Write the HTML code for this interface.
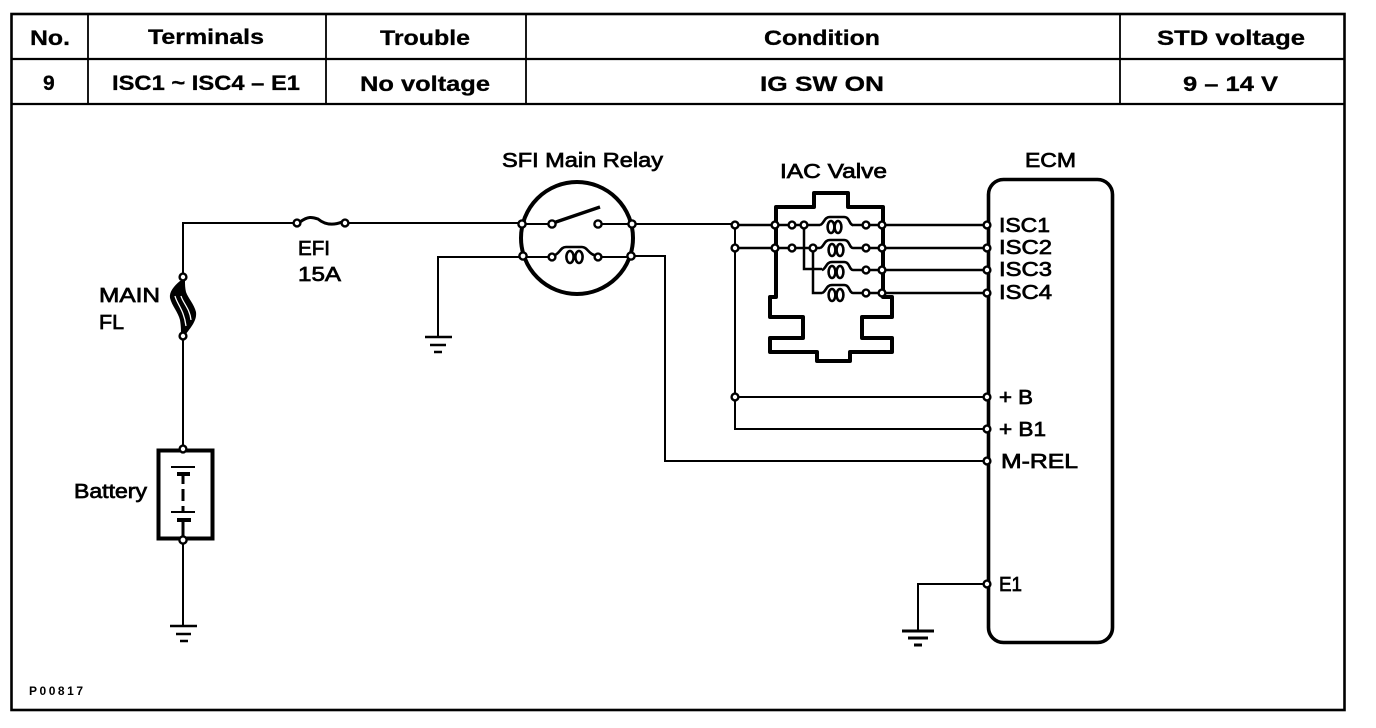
<!DOCTYPE html>
<html><head><meta charset="utf-8"><style>
html,body{margin:0;padding:0;background:#fff;width:1376px;height:728px;overflow:hidden}
svg{display:block}
text{font-family:"Liberation Sans",sans-serif;fill:#000}
.h{font-weight:bold;font-size:21px;stroke:#000;stroke-width:.3}
.l{font-size:20px;font-weight:normal;stroke:#000;stroke-width:.7}
.w{fill:none;stroke:#000;stroke-width:2}
.v{fill:none;stroke:#000;stroke-width:2.5}
.t{fill:none;stroke:#000;stroke-width:4;stroke-linejoin:round}
.n{fill:#fff;stroke:#000;stroke-width:2.4}
.c{fill:none;stroke:#000;stroke-width:2.6}
</style></head><body>
<svg width="1376" height="728" viewBox="0 0 1376 728" xmlns="http://www.w3.org/2000/svg">
<rect width="1376" height="728" fill="#fff"/>
<!-- table frame -->
<g fill="none" stroke="#000">
<rect x="11.5" y="14" width="1333" height="696" stroke-width="2.6"/>
<path d="M11 59H1345M11 104H1345" stroke-width="2.2"/>
<path d="M88 14V104M326 14V104M526 14V104M1120 14V104" stroke-width="1.8"/>
</g>
<text class="h" x="30" y="45" textLength="40" lengthAdjust="spacingAndGlyphs">No.</text>
<text class="h" x="148" y="44" textLength="116" lengthAdjust="spacingAndGlyphs">Terminals</text>
<text class="h" x="380" y="45" textLength="90" lengthAdjust="spacingAndGlyphs">Trouble</text>
<text class="h" x="764" y="45" textLength="116" lengthAdjust="spacingAndGlyphs">Condition</text>
<text class="h" x="1157" y="45" textLength="148" lengthAdjust="spacingAndGlyphs">STD voltage</text>
<text class="h" x="43" y="90">9</text>
<text class="h" x="112" y="90" textLength="188" lengthAdjust="spacingAndGlyphs">ISC1 ~ ISC4 – E1</text>
<text class="h" x="360" y="91" textLength="130" lengthAdjust="spacingAndGlyphs">No voltage</text>
<text class="h" x="760" y="91" textLength="124" lengthAdjust="spacingAndGlyphs">IG SW ON</text>
<text class="h" x="1183" y="91" textLength="95" lengthAdjust="spacingAndGlyphs">9 – 14 V</text>

<!-- labels -->
<text class="l" x="502" y="167" textLength="161" lengthAdjust="spacingAndGlyphs">SFI Main Relay</text>
<text class="l" x="780" y="178" textLength="107" lengthAdjust="spacingAndGlyphs">IAC Valve</text>
<text class="l" x="1025" y="167" textLength="51" lengthAdjust="spacingAndGlyphs">ECM</text>
<text class="l" x="999" y="232" textLength="51" lengthAdjust="spacingAndGlyphs">ISC1</text>
<text class="l" x="999" y="254" textLength="53" lengthAdjust="spacingAndGlyphs">ISC2</text>
<text class="l" x="999" y="276" textLength="53" lengthAdjust="spacingAndGlyphs">ISC3</text>
<text class="l" x="999" y="299" textLength="53" lengthAdjust="spacingAndGlyphs">ISC4</text>
<text class="l" x="999" y="404" textLength="34" lengthAdjust="spacingAndGlyphs">+ B</text>
<text class="l" x="999" y="436" textLength="47" lengthAdjust="spacingAndGlyphs">+ B1</text>
<text class="l" x="1001" y="468" textLength="77" lengthAdjust="spacingAndGlyphs">M-REL</text>
<text class="l" x="999" y="591" textLength="23" lengthAdjust="spacingAndGlyphs">E1</text>
<text class="l" x="99" y="302" textLength="61" lengthAdjust="spacingAndGlyphs">MAIN</text>
<text class="l" x="99" y="329" textLength="25" lengthAdjust="spacingAndGlyphs">FL</text>
<text class="l" x="298" y="255" textLength="32" lengthAdjust="spacingAndGlyphs">EFI</text>
<text class="l" x="298" y="281" textLength="43" lengthAdjust="spacingAndGlyphs">15A</text>
<text class="l" x="74" y="498" textLength="73" lengthAdjust="spacingAndGlyphs">Battery</text>
<text x="29" y="695" font-size="12" font-weight="bold" textLength="54" lengthAdjust="spacing">P00817</text>

<!-- wires -->
<path class="w" d="M183 277V223H297M345 223H522M183 336V450M183 540V626"/>
<path class="w" d="M438 336V257H523M632 224H735M632 256H665V461H987"/>
<path class="w" d="M735 225V429H987M735 397H987"/>
<path class="v" d="M735 225H776M735 248H776"/>
<path class="v" d="M883 225H987M883 248H987M883 270H987M883 293H987"/>
<path class="w" d="M987 584H918V631"/>

<!-- EFI fuse -->
<path fill="none" stroke="#000" stroke-width="3" d="M300 222C308 216 312 217 318 219C324 224 332 226 342 222"/>
<!-- Main FL -->
<path fill="#000" d="M180 281C174 286 169 292 170 298C172 306 178 312 180 320C181 326 181 330 181 334H186C192 326 197 320 196 312C194 304 188 298 186 292C185 288 185 284 185 281Z"/>
<path fill="none" stroke="#fff" stroke-width="1.3" d="M175 296C177 304 184 310 186 326M181 296C183 303 190 309 191 320"/>

<!-- Battery -->
<rect x="158.5" y="450.5" width="54" height="88" fill="none" stroke="#000" stroke-width="4"/>
<g fill="none" stroke="#000">
<path stroke-width="2" d="M171 467H195M171 512H195"/>
<path stroke-width="4" d="M177 474H190M177 520H191"/>
<path stroke-width="3" d="M183 474V484M183 489V501M183 506V512M183 520V538"/>
</g>
<!-- grounds -->
<g fill="none" stroke="#000">
<path stroke-width="2.6" d="M170 626H197M176 634H191M180 641H188"/>
<path stroke-width="2.6" d="M425 337H452M430 345H446M434 352H442"/>
<path stroke-width="3" d="M902 631H934M908 638H928M914 645H922"/>
</g>

<!-- Relay -->
<circle cx="577" cy="238" r="56" fill="none" stroke="#000" stroke-width="4"/>
<path class="w" d="M522 224H552M598 224H632M522 257H552M598 257H632"/>
<path fill="none" stroke="#000" stroke-width="3.4" d="M553 223L600 207"/>
<path class="c" d="M553 256C560 254 560 247 566 247H582C588 247 588 255 598 256"/>
<ellipse class="c" cx="570" cy="257" rx="3.6" ry="6"/>
<ellipse class="c" cx="579" cy="257" rx="3.6" ry="6"/>

<!-- IAC valve body -->
<path class="t" d="M776 297V207H814V193H848V207H883V297H892V317H862V338H892V352H850V361H817V352H770V338H803V317H770V297Z"/>
<path class="v" d="M776 225H820M852 225H883M776 248H820M853 248H883M804 225V269H822M813 248V293H822M853 270H883M853 293H883"/>
<path class="c" d="M820 225C824 224 824 217 830 217H844C850 217 849 225 853 225"/>
<ellipse class="c" cx="831" cy="227" rx="3.4" ry="6"/><ellipse class="c" cx="838" cy="227" rx="3.4" ry="6"/>
<path class="c" d="M820 248C824 247 824 240 830 240H844C850 240 849 248 853 248"/>
<ellipse class="c" cx="832" cy="250" rx="3.4" ry="6"/><ellipse class="c" cx="840" cy="250" rx="3.4" ry="6"/>
<path class="c" d="M822 270C826 269 826 262 832 262H844C850 262 849 270 853 270"/>
<ellipse class="c" cx="832" cy="272" rx="3.4" ry="6"/><ellipse class="c" cx="840" cy="272" rx="3.4" ry="6"/>
<path class="c" d="M822 293C826 292 826 285 832 285H844C850 285 849 293 853 293"/>
<ellipse class="c" cx="832" cy="295" rx="3.4" ry="6"/><ellipse class="c" cx="840" cy="295" rx="3.4" ry="6"/>

<!-- ECM -->
<rect x="988.5" y="179.5" width="124" height="463" rx="15" ry="15" fill="none" stroke="#000" stroke-width="3.6"/>

<!-- nodes -->
<g class="n">
<circle cx="183" cy="277" r="3.4"/><circle cx="183" cy="336" r="3.4"/>
<circle cx="183" cy="449" r="3.4"/><circle cx="183" cy="540" r="3.6"/>
<circle cx="297" cy="223" r="3.4"/><circle cx="345" cy="223" r="3.4"/>
<circle cx="522" cy="224" r="3.6"/><circle cx="632" cy="224" r="3.6"/>
<circle cx="523" cy="256" r="3.6"/><circle cx="631" cy="256" r="3.6"/>
<circle cx="552" cy="224" r="3.6"/><circle cx="598" cy="224" r="3.6"/>
<circle cx="552" cy="257" r="3.4"/><circle cx="598" cy="257" r="3.4"/>
<circle cx="735" cy="225" r="3.4"/><circle cx="735" cy="248" r="3.4"/><circle cx="735" cy="397" r="3.4"/>
<circle cx="775" cy="225" r="3.4"/><circle cx="792" cy="225" r="3.4"/><circle cx="804" cy="225" r="3.4"/><circle cx="866" cy="225" r="3.4"/><circle cx="882" cy="225" r="3.4"/>
<circle cx="775" cy="248" r="3.4"/><circle cx="792" cy="248" r="3.4"/><circle cx="813" cy="248" r="3.4"/><circle cx="866" cy="248" r="3.4"/><circle cx="882" cy="248" r="3.4"/>
<circle cx="866" cy="270" r="3.4"/><circle cx="882" cy="270" r="3.4"/>
<circle cx="866" cy="293" r="3.4"/><circle cx="882" cy="293" r="3.4"/>
<circle cx="987" cy="225" r="3.4"/><circle cx="987" cy="248" r="3.4"/><circle cx="987" cy="270" r="3.4"/><circle cx="987" cy="293" r="3.4"/>
<circle cx="987" cy="397" r="3.4"/><circle cx="987" cy="429" r="3.4"/><circle cx="987" cy="461" r="3.4"/><circle cx="987" cy="584" r="3.4"/>
</g>
</svg>
</body></html>
